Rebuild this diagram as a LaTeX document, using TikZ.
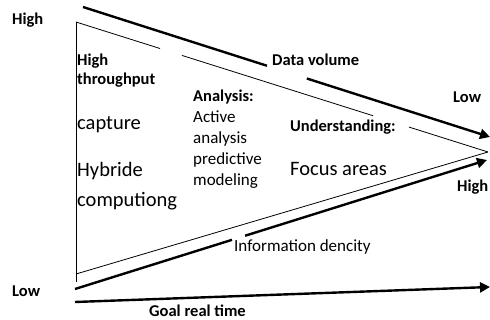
\documentclass[tikz,border=0pt]{standalone}
\usepackage{fontspec}
\setmainfont{Carlito}
\usetikzlibrary{arrows.meta,calc}

\begin{document}
\begin{tikzpicture}[
  x=1pt, y=-1pt,
  lbl/.style={anchor=base west, inner sep=0pt, font=\fontsize{16.5}{20}\selectfont\bfseries},
  txt/.style={anchor=base west, inner sep=0pt, font=\fontsize{17}{20}\selectfont},
  bigtxt/.style={anchor=base west, inner sep=0pt, font=\fontsize{20.5}{24}\selectfont},
  edge/.style={line width=0.8pt},
  axisline/.style={line width=2.4pt},
  arr/.style={axisline, -{Triangle[length=10pt,width=10pt]}}
]
\useasboundingbox (0,0) rectangle (490,320);

% triangle corners and arrow ends
\coordinate (top) at (76,22);
\coordinate (bot) at (76,274);
\coordinate (foot) at (76,282);
\coordinate (apex) at (488,152);
\coordinate (dv-s) at (83,7);
\coordinate (dv-e) at (490,137);
\coordinate (inf-s) at (75,289);
\coordinate (inf-e) at (487,160);
\coordinate (goal-s) at (75,302);
\coordinate (goal-e) at (490,287);

% labels
\node[lbl] (hi-l) at (12,25) {High};
\node[lbl] (lo-l) at (12,297) {Low};
\node[lbl] (thr1) at (77,66) {High};
\node[lbl] (thr2) at (77,85) {throughput};
\node[bigtxt] (cap) at (77,130) {capture};
\node[bigtxt] (hyb1) at (77,177) {Hybride};
\node[bigtxt] (hyb2) at (77,207) {computiong};
\node[lbl] (ana) at (193,102) {Analysis:};
\node[txt] (ana1) at (193,123) {Active};
\node[txt] (ana2) at (193,144) {analysis};
\node[txt] (ana3) at (193,165) {predictive};
\node[txt] (ana4) at (193,186) {modeling};
\node[lbl] (dv) at (272,66) {Data volume};
\node[lbl] (lo-r) at (453,103) {Low};
\node[lbl] (und) at (290,132) {Understanding:};
\node[bigtxt] (foc) at (290,176) {Focus areas};
\node[lbl] (hi-r) at (457,192) {High};
\node[txt] (inf) at (234,252) {Information dencity};
\node[lbl] (goal) at (149,317) {Goal real time};

% funnel
\draw[edge] (top) -- (foot);
\draw[edge] (top) -- ($(top)!0.204!(apex)$);
\draw[edge] ($(top)!0.257!(apex)$) -- ($(top)!0.721!(apex)$);
\draw[edge] ($(top)!0.808!(apex)$) -- (apex);
\draw[edge] (bot) -- (apex);

% axes
\draw[axisline] (dv-s) -- ($(dv-s)!0.452!(dv-e)$);
\draw[arr] ($(dv-s)!0.550!(dv-e)$) -- (dv-e);
\draw[axisline] (inf-s) -- ($(inf-s)!0.381!(inf-e)$);
\draw[arr] ($(inf-s)!0.413!(inf-e)$) -- (inf-e);
\draw[arr] (goal-s) -- (goal-e);
\end{tikzpicture}
\end{document}
